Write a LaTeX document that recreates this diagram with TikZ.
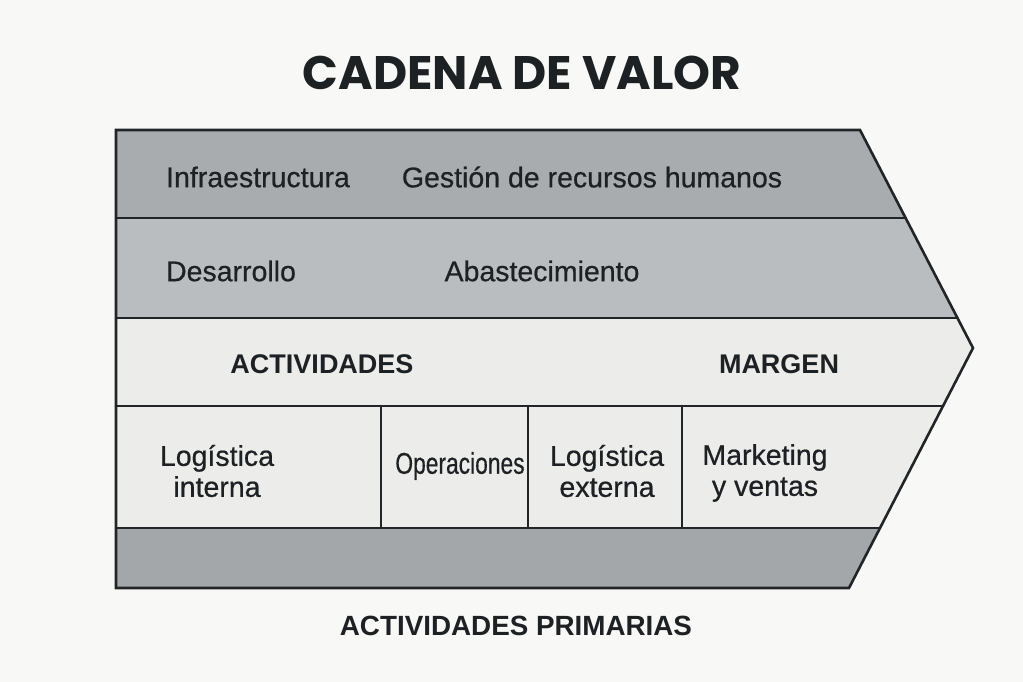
\documentclass[tikz,border=0pt]{standalone}
\usepackage{fontspec}
\setmainfont{Liberation Sans}
\newfontfamily\titlefont{Poppins}
\definecolor{bgc}{HTML}{F8F8F6}
\definecolor{rowA}{HTML}{A8ACAE}
\definecolor{rowB}{HTML}{B9BDC0}
\definecolor{rowC}{HTML}{ECECEB}
\definecolor{rowD}{HTML}{A3A7A9}
\definecolor{ink}{HTML}{1E2124}
\definecolor{edge}{HTML}{222527}
\tikzset{
  rule/.style={draw=edge, line width=2.6pt, line cap=round, line join=miter},
  lbl/.style={text=ink, font=\fontsize{28.5bp}{31bp}\selectfont\addfontfeature{FakeBold=0.6}, inner sep=0pt, align=center},
  hdr/.style={text=ink, font=\fontsize{27bp}{30bp}\selectfont\bfseries, inner sep=0pt},
  ttl/.style={text=ink, font=\titlefont\fontsize{47bp}{52bp}\selectfont\bfseries, inner sep=0pt}
}
\begin{document}
\begin{tikzpicture}[x=1bp, y=-1bp]
\fill[bgc] (0,0) rectangle (1023,682);
\useasboundingbox (0,0) rectangle (1023,682);
% key points
\coordinate (tl) at (116,130);
\coordinate (tr) at (860,130);
\coordinate (l1) at (116,218);
\coordinate (r1) at (905.6,218);
\coordinate (l2) at (116,318);
\coordinate (r2) at (957.4,318);
\coordinate (tip) at (973,348);
\coordinate (l3) at (116,406);
\coordinate (r3) at (943,406);
\coordinate (l4) at (116,528);
\coordinate (r4) at (880,528);
\coordinate (bl) at (116,588);
\coordinate (br) at (849,588);
% bands
\fill[rowA] (tl) -- (tr) -- (r1) -- (l1) -- cycle;
\fill[rowB] (l1) -- (r1) -- (r2) -- (l2) -- cycle;
\fill[rowC] (l2) -- (r2) -- (tip) -- (r3) -- (l3) -- cycle;
\fill[rowC] (l3) -- (r3) -- (r4) -- (l4) -- cycle;
\fill[rowD] (l4) -- (r4) -- (br) -- (bl) -- cycle;
% dividers
\coordinate (d1t) at (381,406); \coordinate (d1b) at (381,528);
\coordinate (d2t) at (528,406); \coordinate (d2b) at (528,528);
\coordinate (d3t) at (682,406); \coordinate (d3b) at (682,528);
\draw[rule] (l1) -- (r1);
\draw[rule] (l2) -- (r2);
\draw[rule] (l3) -- (r3);
\draw[rule] (l4) -- (r4);
\draw[rule] (d1t) -- (d1b);
\draw[rule] (d2t) -- (d2b);
\draw[rule] (d3t) -- (d3b);
\draw[rule, line cap=butt] (tl) -- (tr) -- (tip) -- (br) -- (bl) -- cycle;
% texts
\node[ttl] (title) at (522,73) {CADENA DE VALOR};
\node[lbl] (infra) at (258,177) {Infraestructura};
\node[lbl] (rrhh) at (592,177) {Gestión de recursos humanos};
\node[lbl] (desa) at (231,271) {Desarrollo};
\node[lbl] (abas) at (542,271) {Abastecimiento};
\node[hdr] (act) at (322,364) {ACTIVIDADES};
\node[hdr] (marg) at (779,364) {MARGEN};
\node[lbl] (logi) at (217,471) {Logística\\interna};
\node[lbl] (oper) at (460,466) {\scalebox{0.8}[1.05]{Operaciones}};
\node[lbl] (loge) at (607,471) {Logística\\externa};
\node[lbl] (mkt) at (765,473) {Marketing\\y ventas};
\node[hdr] (prim) at (516,626) {\fontsize{27.8bp}{30bp}\selectfont ACTIVIDADES PRIMARIAS};
\end{tikzpicture}
\end{document}
